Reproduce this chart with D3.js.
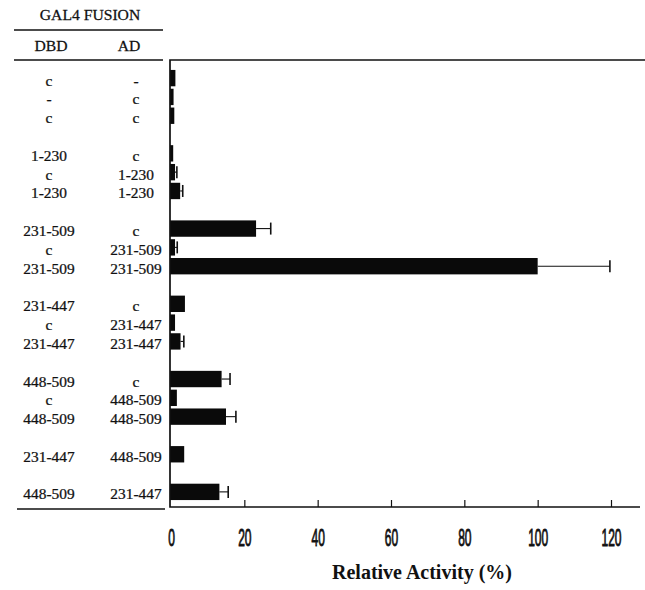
<!DOCTYPE html>
<html>
<head>
<meta charset="utf-8">
<script src="https://cdn.jsdelivr.net/npm/d3@7"></script>
<style>
  html, body { margin: 0; padding: 0; background: #fff; }
  svg { display: block; }
  .tbl { font-family: "Liberation Serif", "Times New Roman", serif; fill: #111; }
</style>
</head>
<body>
<svg id="chart" width="645" height="590"></svg>
<script>
// GAL4 two-hybrid fusions: DBD fusion, AD fusion, relative activity (%) and error
const dbd = ["c", "-", "c",
             "1-230", "c", "1-230",
             "231-509", "c", "231-509",
             "231-447", "c", "231-447",
             "448-509", "c", "448-509",
             "231-447",
             "448-509"];
const ad = ["-", "c", "c",
            "c", "1-230", "1-230",
            "c", "231-509", "231-509",
            "c", "231-447", "231-447",
            "c", "448-509", "448-509",
            "448-509",
            "231-447"];
const activity = [1.2, 0.7, 0.9,
                  0.6, 1.1, 2.5,
                  23.2, 1.1, 100,
                  3.8, 1.1, 2.6,
                  13.8, 1.6, 15.0,
                  3.6,
                  13.2];
const errorBar = [0, 0, 0,
                  0, 0.5, 0.7,
                  4.0, 0.6, 19.7,
                  0, 0, 0.9,
                  2.3, 0, 2.7,
                  0,
                  2.4];
const group = [0, 0, 0, 1, 1, 1, 2, 2, 2, 3, 3, 3, 4, 4, 4, 5, 6];
const xTicks = [0, 20, 40, 60, 80, 100, 120];

// each group is followed by one empty slot
const slot = group.map((g, i) => i + g);
const nSlots = slot[slot.length - 1] + 1;

const svg = d3.select("#chart");
const axisX = 170, axisTop = 60, axisBottom = 507;

const x = d3.scaleLinear().domain([0, 120]).range([171, 611]);
const y = d3.scaleBand().domain(d3.range(nSlots)).range([69, 501])
  .paddingInner(0.13).paddingOuter(0.05);

const rows = activity.map((v, i) => ({ v, e: errorBar[i], s: slot[i], dbd: dbd[i], ad: ad[i] }));

// table header
const head = svg.append("g").attr("class", "tbl").attr("font-size", 14.5)
  .attr("stroke", "#111").attr("stroke-width", 0.25);
head.append("text").attr("transform", "translate(90,19.5) scale(1.08,1)")
  .attr("text-anchor", "middle").text("GAL4  FUSION");
head.append("text").attr("transform", "translate(51,51) scale(1.08,1)")
  .attr("text-anchor", "middle").text("DBD");
head.append("text").attr("transform", "translate(129,51) scale(1.08,1)")
  .attr("text-anchor", "middle").text("AD");

const rules = [[14, 163, 30], [14, 163, 60], [17, 165, 509]];
svg.selectAll("line.rule").data(rules).join("line").attr("class", "rule")
  .attr("x1", d => d[0]).attr("x2", d => d[1]).attr("y1", d => d[2]).attr("y2", d => d[2])
  .attr("stroke", "#111").attr("stroke-width", 1.6);

// row labels
const lab = svg.append("g").attr("class", "tbl").attr("font-size", 14)
  .attr("stroke", "#111").attr("stroke-width", 0.25);
lab.selectAll("text.dbd").data(rows).join("text").attr("class", "dbd")
  .attr("transform", d => `translate(49,${y(d.s) + y.bandwidth() / 2 + 7.5}) scale(1.1,1)`)
  .attr("text-anchor", "middle").text(d => d.dbd);
lab.selectAll("text.ad").data(rows).join("text").attr("class", "ad")
  .attr("transform", d => `translate(136,${y(d.s) + y.bandwidth() / 2 + 7.5}) scale(1.1,1)`)
  .attr("text-anchor", "middle").text(d => d.ad);

// bars
svg.append("g").selectAll("rect").data(rows).join("rect")
  .attr("x", axisX).attr("y", d => y(d.s))
  .attr("width", d => x(d.v) - axisX).attr("height", y.bandwidth())
  .attr("fill", "#0a0a0a");

// error bars
const eb = svg.append("g").attr("stroke", "#111")
  .selectAll("g").data(rows.filter(d => d.e > 0)).join("g");
eb.append("line")
  .attr("x1", d => x(d.v)).attr("x2", d => x(d.v + d.e))
  .attr("y1", d => y(d.s) + y.bandwidth() / 2).attr("y2", d => y(d.s) + y.bandwidth() / 2)
  .attr("stroke-width", 1.1);
eb.append("line")
  .attr("x1", d => x(d.v + d.e)).attr("x2", d => x(d.v + d.e))
  .attr("y1", d => y(d.s) + y.bandwidth() / 2 - 6).attr("y2", d => y(d.s) + y.bandwidth() / 2 + 6)
  .attr("stroke-width", 1.6);

// frame: top rule, left axis, bottom axis
svg.append("path")
  .attr("d", `M645,${axisTop}H${axisX}V${axisBottom}H640`)
  .attr("fill", "none").attr("stroke", "#111").attr("stroke-width", 1.7);

// x axis ticks and labels
const xa = svg.append("g").attr("transform", `translate(0,${axisBottom})`)
  .call(d3.axisBottom(x).tickValues(xTicks).tickSizeInner(-7).tickSizeOuter(0).tickFormat(d3.format("d")));
xa.select(".domain").remove();
xa.selectAll(".tick line").attr("stroke", "#111").attr("stroke-width", 1.2)
  .filter(d => d === 0).remove();
xa.selectAll(".tick text")
  .attr("y", 39.5).attr("dy", 0)
  .attr("transform", "scale(0.5,1)")
  .attr("font-family", "'Liberation Sans', Arial, sans-serif")
  .attr("font-size", 24).attr("fill", "#111")
  .attr("stroke", "#111").attr("stroke-width", 0.9);

svg.append("text").attr("class", "tbl")
  .attr("x", 422).attr("y", 579).attr("text-anchor", "middle")
  .attr("font-size", 20).attr("font-weight", "bold")
  .text("Relative Activity (%)");
</script>
</body>
</html>
